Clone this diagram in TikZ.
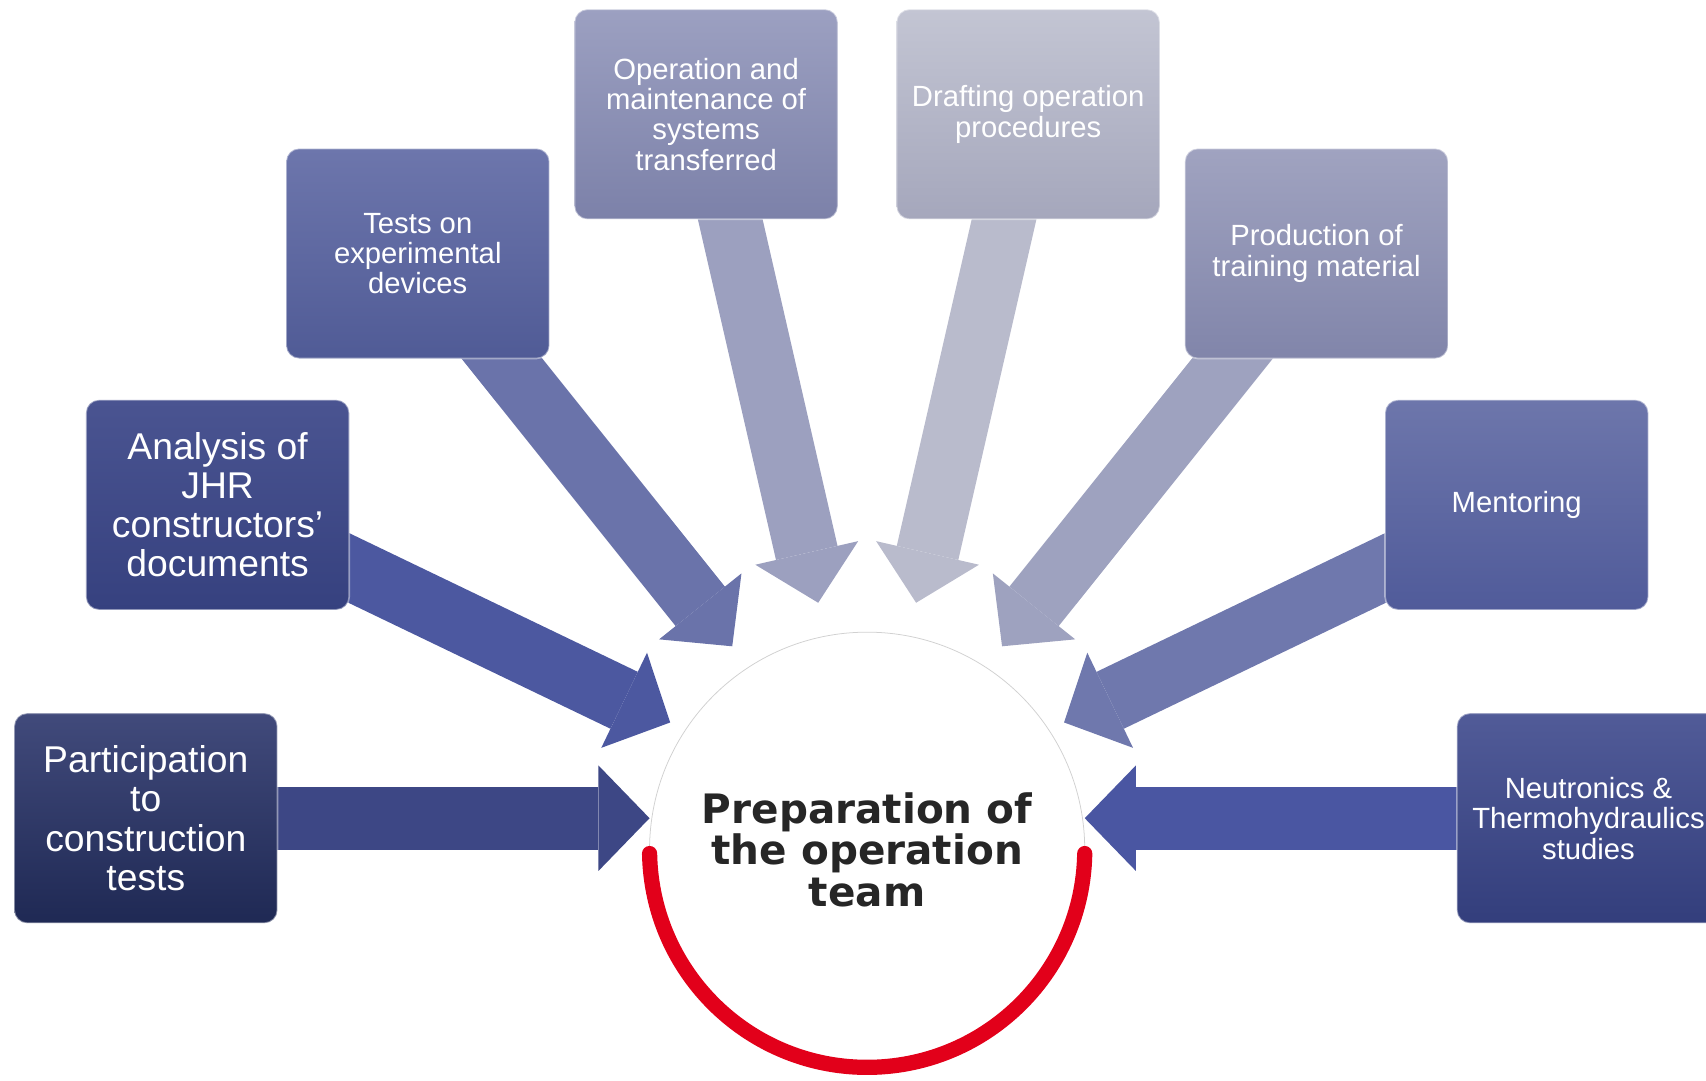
\documentclass[tikz,border=0pt]{standalone}
\usepackage{fontspec}
\setmainfont{Liberation Sans}
\newfontfamily\hubfont{DejaVu Sans}
\usepackage{tikz}
\usetikzlibrary{arrows.meta, backgrounds}

\definecolor{ringred}{HTML}{E2001A}
\definecolor{hubtext}{HTML}{262626}
% box shades (top / bottom)
\definecolor{partTop}{HTML}{414A7B}\definecolor{partBot}{HTML}{1F2954}
\definecolor{anaTop}{HTML}{4A5491}\definecolor{anaBot}{HTML}{36417F}
\definecolor{testTop}{HTML}{6D76AC}\definecolor{testBot}{HTML}{505B96}
\definecolor{operTop}{HTML}{9CA0C1}\definecolor{operBot}{HTML}{7C81A9}
\definecolor{draftTop}{HTML}{C3C5D3}\definecolor{draftBot}{HTML}{A5A7BC}
\definecolor{prodTop}{HTML}{A0A3C0}\definecolor{prodBot}{HTML}{8185AA}
\definecolor{mentTop}{HTML}{6D76AB}\definecolor{mentBot}{HTML}{505B9A}
\definecolor{neutTop}{HTML}{515B98}\definecolor{neutBot}{HTML}{333E7C}
% arrow colours
\definecolor{partArr}{HTML}{3D4785}
\definecolor{anaArr}{HTML}{4C58A0}
\definecolor{testArr}{HTML}{6A73AA}
\definecolor{operArr}{HTML}{9CA0BF}
\definecolor{draftArr}{HTML}{B9BBCC}
\definecolor{prodArr}{HTML}{9EA2BF}
\definecolor{mentArr}{HTML}{6F78AD}
\definecolor{neutArr}{HTML}{4A56A2}

\begin{document}
\begin{tikzpicture}[x=0.2mm, y=-0.2mm,
	stage/.style={rectangle, rounded corners=2.4mm, minimum width=48.4mm, minimum height=38.6mm,
		align=center, text=white, draw=white, draw opacity=0.45, line width=0.3mm,
		font=\fontsize{15.3pt}{15.9pt}\selectfont},
	bigtext/.style={font=\fontsize{19.5pt}{20.5pt}\selectfont},
	feeder/.style={line width=11.6mm, -{Triangle[width=19.4mm, length=9.4mm, line width=0pt]}}]
	\useasboundingbox (0,0) rectangle (1568,993.5);

	% centre
	\node[circle, draw=black!18, fill=white, minimum size=80mm, inner sep=0pt, outer sep=0pt,
		align=center, text=hubtext, font=\hubfont\fontsize{21.2pt}{21.6pt}\selectfont\bfseries]
		(hub) at (797,781) {Preparation of\\the operation\\team};
	\draw[ringred, line width=2.8mm, line cap=round] (hub.181) arc[start angle=181, end angle=359, radius=40mm];

	% activities
	\node[stage, bigtext, top color=partTop, bottom color=partBot] (b1) at (134,752) {Participation\\to\\construction\\tests};
	\node[stage, bigtext, top color=anaTop, bottom color=anaBot] (b2) at (200,464) {Analysis of\\JHR\\constructors’\\documents};
	\node[stage, top color=testTop, bottom color=testBot] (b3) at (384,233) {Tests on\\experimental\\devices};
	\node[stage, top color=operTop, bottom color=operBot] (b4) at (649,105) {Operation and\\maintenance of\\systems\\transferred};
	\node[stage, top color=draftTop, bottom color=draftBot] (b5) at (945,105) {Drafting operation\\procedures};
	\node[stage, top color=prodTop, bottom color=prodBot] (b6) at (1210,233) {Production of\\training material};
	\node[stage, top color=mentTop, bottom color=mentBot] (b7) at (1394,464) {Mentoring};
	\node[stage, top color=neutTop, bottom color=neutBot] (b8) at (1460,752) {Neutronics \&\\Thermohydraulics\\studies};

	% arrow tips round the hub
	\coordinate (t1) at (597,752);
	\coordinate (t2) at (616,664);
	\coordinate (t3) at (673,594);
	\coordinate (t4) at (752,554);
	\coordinate (t5) at (842,554);
	\coordinate (t6) at (921,594);
	\coordinate (t7) at (978,664);
	\coordinate (t8) at (997,752);

	\begin{scope}[on background layer]
		\draw[feeder, partArr] (b1.center) -- (t1);
		\draw[feeder, anaArr] (b2.center) -- (t2);
		\draw[feeder, testArr] (b3.center) -- (t3);
		\draw[feeder, operArr] (b4.center) -- (t4);
		\draw[feeder, draftArr] (b5.center) -- (t5);
		\draw[feeder, prodArr] (b6.center) -- (t6);
		\draw[feeder, mentArr] (b7.center) -- (t7);
		\draw[feeder, neutArr] (b8.center) -- (t8);
	\end{scope}
\end{tikzpicture}
\end{document}
